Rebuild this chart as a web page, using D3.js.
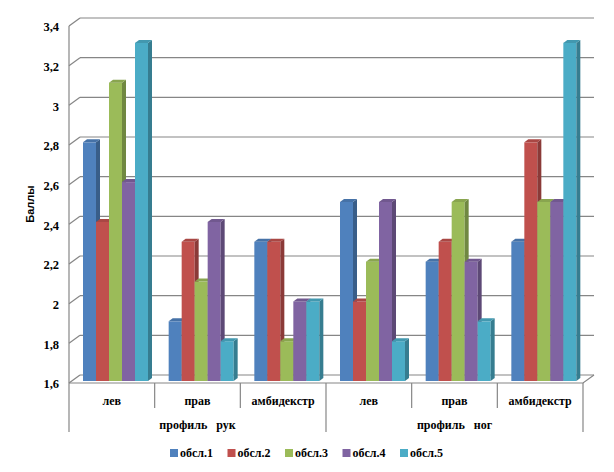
<!DOCTYPE html>
<html>
<head>
<meta charset="utf-8">
<script src="https://cdn.jsdelivr.net/npm/d3@7"></script>
<style>
  body { margin: 0; background: #fff; }
  text { font-family: "Liberation Serif", "Times New Roman", serif; font-weight: bold; fill: #000; }
</style>
</head>
<body>
<div id="chart"></div>
<script>
(function(){
  const W = 614, H = 472;

  // data
  const categories = ['лев', 'прав', 'амбидекстр', 'лев', 'прав', 'амбидекстр'];
  const groups = [ { name: 'профиль   рук', span: 3 }, { name: 'профиль   ног', span: 3 } ];
  const series = ['обсл.1', 'обсл.2', 'обсл.3', 'обсл.4', 'обсл.5'];
  const values = [
    [2.8, 1.9, 2.3, 2.5, 2.2, 2.3],  // обсл.1
    [2.4, 2.3, 2.3, 2.0, 2.3, 2.8],  // обсл.2
    [3.1, 2.1, 1.8, 2.2, 2.5, 2.5],  // обсл.3
    [2.6, 2.4, 2.0, 2.5, 2.2, 2.5],  // обсл.4
    [3.3, 1.8, 2.0, 1.8, 1.9, 3.3]   // обсл.5
  ];
  const yTicks = [1.6, 1.8, 2, 2.2, 2.4, 2.6, 2.8, 3, 3.2, 3.4];

  const colors = ['#4F81BD', '#C0504D', '#9BBB59', '#8064A2', '#4BACC6'];

  const x0 = 69, x1 = 583;          // front floor edge
  const dxB = 11, dyB = -8;         // offset to back wall
  const dxD = 4,  dyD = -3;         // bar depth

  const svg = d3.select('#chart').append('svg')
    .attr('width', W).attr('height', H);

  const yFront = d3.scaleLinear().domain([1.6, 3.4]).range([383, 26]);
  const yBar   = d3.scaleLinear().domain([1.6, 3.4]).range([381, 23]);
  const xCat = d3.scaleBand().domain(d3.range(categories.length)).range([x0, x1]);
  const xSer = d3.scaleBand().domain(d3.range(series.length)).range([14, 14 + 65]);

  const gridColor = '#868686';

  // back wall gridlines + side wall diagonals
  const grid = svg.append('g');
  yTicks.forEach(t => {
    const yf = yFront(t), yb = yf + dyB;
    grid.append('line').attr('x1', x0 + dxB).attr('x2', x1 + dxB)
      .attr('y1', yb).attr('y2', yb)
      .attr('stroke', gridColor).attr('stroke-width', 1.2);
    grid.append('line').attr('x1', x0).attr('x2', x0 + dxB)
      .attr('y1', yf).attr('y2', yb)
      .attr('stroke', gridColor).attr('stroke-width', 1.2);
  });
  // floor
  const yF0 = yFront(1.6);
  grid.append('path')
    .attr('d', `M${x0},${yF0}L${x1},${yF0}L${x1 + dxB},${yF0 + dyB}`)
    .attr('fill', 'none').attr('stroke', gridColor).attr('stroke-width', 1.2);
  // vertical axis line
  grid.append('line').attr('x1', x0).attr('x2', x0)
    .attr('y1', yFront(3.4)).attr('y2', 432)
    .attr('stroke', gridColor).attr('stroke-width', 1.2);

  // tick labels
  svg.append('g').selectAll('text').data(yTicks).enter().append('text')
    .attr('x', 59).attr('y', d => yFront(d) + 1)
    .attr('dy', '0.35em').attr('text-anchor', 'end')
    .style('font-size', '12.5px')
    .text(d => String(d).replace('.', ','));

  // y title
  svg.append('text')
    .attr('transform', 'translate(34,204) rotate(-90)')
    .attr('text-anchor', 'middle')
    .style('font-family', '"Liberation Sans", Arial, sans-serif')
    .style('font-size', '11px')
    .text('Баллы');

  // bars
  const shade = (c, k) => d3.color(c).darker(k).formatHex();
  const bars = svg.append('g');
  categories.forEach((cat, ci) => {
    series.forEach((s, si) => {
      const v = values[si][ci];
      const bx = xCat(ci) + xSer(si), bw = xSer.bandwidth();
      const yt = yBar(v), yb = yBar(1.6);
      const g = bars.append('g');
      g.append('rect').attr('x', bx).attr('y', yt)
        .attr('width', bw).attr('height', yb - yt)
        .attr('fill', colors[si]);
      g.append('path')
        .attr('d', `M${bx + bw},${yt}L${bx + bw + dxD},${yt + dyD}L${bx + bw + dxD},${yb + dyD}L${bx + bw},${yb}Z`)
        .attr('fill', shade(colors[si], 0.9));
      g.append('path')
        .attr('d', `M${bx},${yt}L${bx + dxD},${yt + dyD}L${bx + bw + dxD},${yt + dyD}L${bx + bw},${yt}Z`)
        .attr('fill', shade(colors[si], 0.35));
    });
  });

  // category axis lines & labels
  const ax = svg.append('g');
  d3.range(1, categories.length).forEach(i => {
    const isGroupEdge = i === 3;
    ax.append('line').attr('x1', xCat(i)).attr('x2', xCat(i))
      .attr('y1', yF0).attr('y2', isGroupEdge ? 432 : 408)
      .attr('stroke', gridColor).attr('stroke-width', 1.2);
  });
  ax.append('line').attr('x1', x1).attr('x2', x1)
    .attr('y1', yF0).attr('y2', 432)
    .attr('stroke', gridColor).attr('stroke-width', 1.2);

  ax.selectAll('text.cat').data(categories).enter().append('text')
    .attr('class', 'cat')
    .attr('x', (d, i) => xCat(i) + xCat.bandwidth() / 2)
    .attr('y', 401).attr('dy', '0.35em')
    .attr('text-anchor', 'middle')
    .style('font-size', '12px')
    .text(d => d);

  let start = 0;
  groups.forEach(g => {
    const xs = xCat(start), xe = xCat(start + g.span - 1) + xCat.bandwidth();
    ax.append('text')
      .attr('x', (xs + xe) / 2).attr('y', 425).attr('dy', '0.35em')
      .attr('text-anchor', 'middle')
      .style('font-size', '12px')
      .style('white-space', 'pre')
      .attr('xml:space', 'preserve')
      .text(g.name);
    start += g.span;
  });

  // legend
  const legendX = d3.scalePoint().domain(d3.range(series.length)).range([170, 400]);
  const lg = svg.append('g').selectAll('g').data(series).enter().append('g')
    .attr('transform', (d, i) => `translate(${legendX(i)},453)`);
  lg.append('rect').attr('x', 0).attr('y', -4).attr('width', 8).attr('height', 8)
    .attr('fill', (d, i) => colors[i]);
  lg.append('text').attr('x', 10).attr('y', 0).attr('dy', '0.35em')
    .style('font-size', '12px')
    .text(d => d);
})();
</script>
</body>
</html>
